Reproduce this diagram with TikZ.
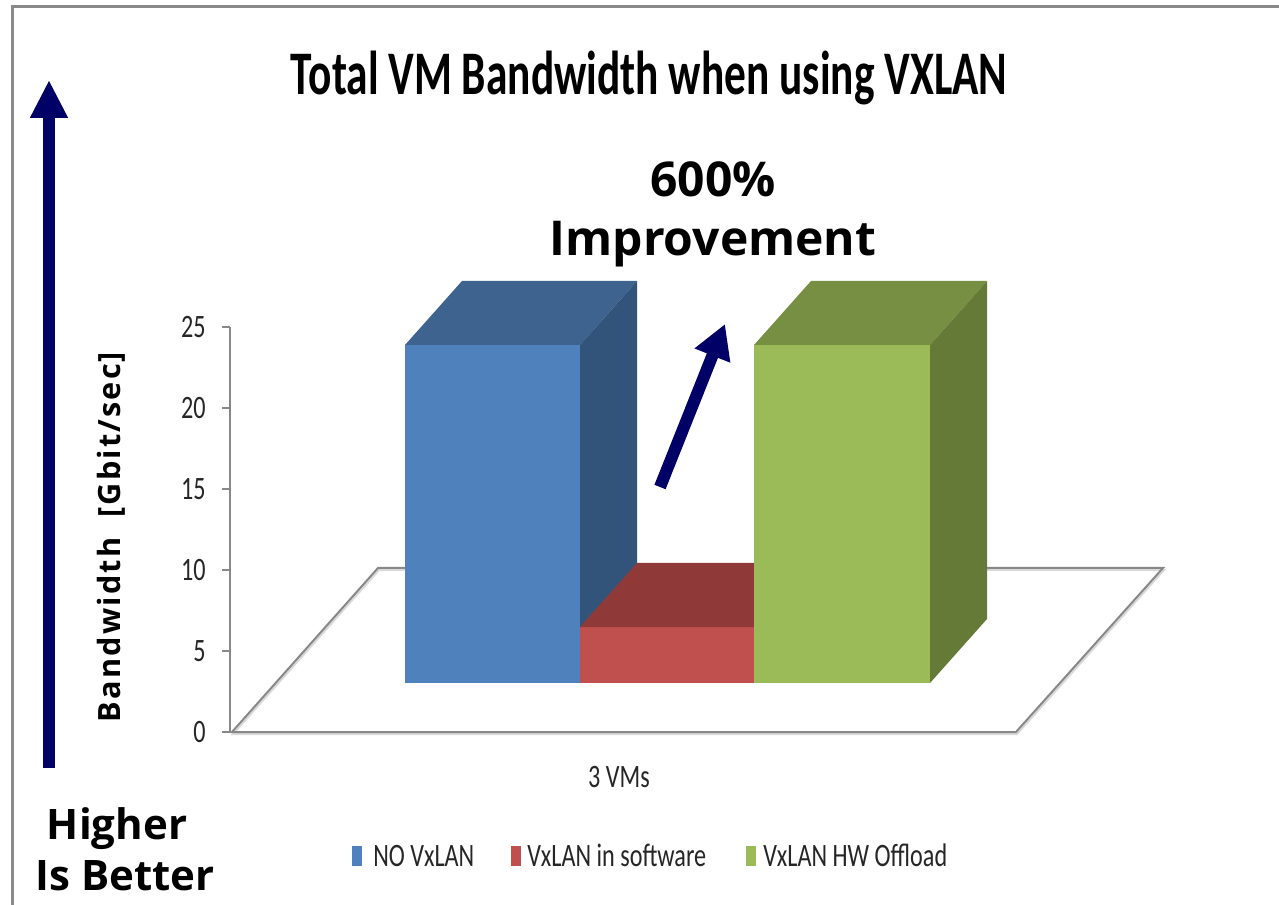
\documentclass[tikz,border=0pt]{standalone}
\usepackage{fontspec}
\usetikzlibrary{arrows.meta}
\setmainfont{Carlito}
\newfontfamily\calfont{Carlito}
\newfontfamily\segfont{Open Sans}
\newfontfamily\segspaced[LetterSpace=7]{Open Sans}

\definecolor{navy}{HTML}{000066}
\definecolor{axisgray}{HTML}{888888}
\definecolor{framegray}{HTML}{8A8A8A}
\definecolor{bluefront}{HTML}{4F81BD}
\definecolor{bluetop}{HTML}{3D638E}
\definecolor{blueside}{HTML}{33547A}
\definecolor{redfront}{HTML}{C0504D}
\definecolor{redtop}{HTML}{8F3A39}
\definecolor{greenfront}{HTML}{9BBB59}
\definecolor{greentop}{HTML}{778F42}
\definecolor{greenside}{HTML}{667A38}

\newcommand{\narrow}[1]{\scalebox{0.74}[1]{#1}}

\begin{document}
\begin{tikzpicture}[x=0.75pt,y=-0.75pt,
  charttext/.style={font=\calfont\fontsize{24.5}{29}\selectfont, inner sep=0pt, text=black!85},
  bigbold/.style={font=\segfont\bfseries\fontsize{36}{43}\selectfont, inner sep=0pt},
  sidebold/.style={font=\segfont\bfseries\fontsize{31.5}{38}\selectfont, inner sep=0pt},
  fatarrow/.style={draw=navy, line width=9pt},
  gridline/.style={draw=axisgray, line width=1.5pt},
  legendkey/.style={minimum width=7.5pt, minimum height=14.5pt, inner sep=0pt, anchor=south west}]
\useasboundingbox (0,0) rectangle (1279,905);
\fill[white] (0,0) rectangle (1279,905);

% outer frame (top and left edges)
\draw[framegray, line width=2.25pt] (12,905) -- (12,7) -- (1279,7);

% title
\node[font=\calfont\bfseries\fontsize{46.5}{56}\selectfont, inner sep=0pt, anchor=base] (title) at (649,95) {\scalebox{0.70}[1]{Total VM Bandwidth when using VXLAN}};

% floor of the 3-D plot area
\draw[black!15, line width=1.5pt] (233,734) -- (379,570) -- (1164,570) -- (1017,734) -- cycle;
\draw[gridline] (232,732) -- (378,568) -- (1163,568) -- (1016,732) -- cycle;

% value axis with ticks and labels
\draw[gridline] (230,327) -- (230,732);
\foreach \v/\yy in {0/732,5/651,10/570,15/489,20/408,25/327}{
  \draw[gridline] (222,\yy) -- (230,\yy);
  \node[charttext, anchor=east] (tick\v) at (206,\yy) {\narrow{\v}};
}

% bar: NO VxLAN
\fill[bluefront] (405,345) rectangle (580,683);
\fill[bluetop] (405,345) -- (462,281) -- (637,281) -- (580,345) -- cycle;
\fill[blueside] (580,345) -- (637,281) -- (637,619) -- (580,683) -- cycle;
% bar: VxLAN in software
\fill[redfront] (580,627) rectangle (754,683);
\fill[redtop] (580,627) -- (637,563) -- (811,563) -- (754,627) -- cycle;
% bar: VxLAN HW Offload
\fill[greenfront] (754,345) rectangle (930,683);
\fill[greentop] (754,345) -- (811,281) -- (987,281) -- (930,345) -- cycle;
\fill[greenside] (930,345) -- (987,281) -- (987,619) -- (930,683) -- cycle;

% category label
\node[charttext, anchor=base] (cat) at (619,787) {\narrow{3 VMs}};

% y axis title
\node[font=\segspaced\bfseries\fontsize{23}{28}\selectfont, inner sep=0pt, rotate=90] (ylab) at (111,537) {Bandwidth~~[Gbit/sec]};

% improvement callout
\node[bigbold, anchor=base] (gaintop) at (713,197) {600\%};
\node[bigbold, anchor=base] (gainbot) at (713,256) {Improvement};
\coordinate (upfrom) at (660,487);
\coordinate (upto) at (725,324);
\draw[fatarrow, -{Triangle[length=25.5pt, width=27pt]}] (upfrom) -- (upto);

% "higher is better" arrow
\coordinate (hbfrom) at (49,768);
\coordinate (hbto) at (49,80);
\draw[fatarrow, -{Triangle[length=28.5pt, width=26.5pt]}] (hbfrom) -- (hbto);
\node[sidebold, anchor=base] (higher) at (117,839) {Higher};
\node[sidebold, anchor=base] (better) at (125,890) {Is Better};

% legend
\node[legendkey, fill=bluefront] (keyA) at (352,866) {};
\node[charttext, anchor=base west] (labA) at (373,866) {\narrow{NO VxLAN}};
\node[legendkey, fill=redfront] (keyB) at (511,866) {};
\node[charttext, anchor=base west] (labB) at (527,866) {\narrow{VxLAN in software}};
\node[legendkey, fill=greenfront] (keyC) at (746,866) {};
\node[charttext, anchor=base west] (labC) at (763,866) {\narrow{VxLAN HW Offload}};
\end{tikzpicture}
\end{document}
